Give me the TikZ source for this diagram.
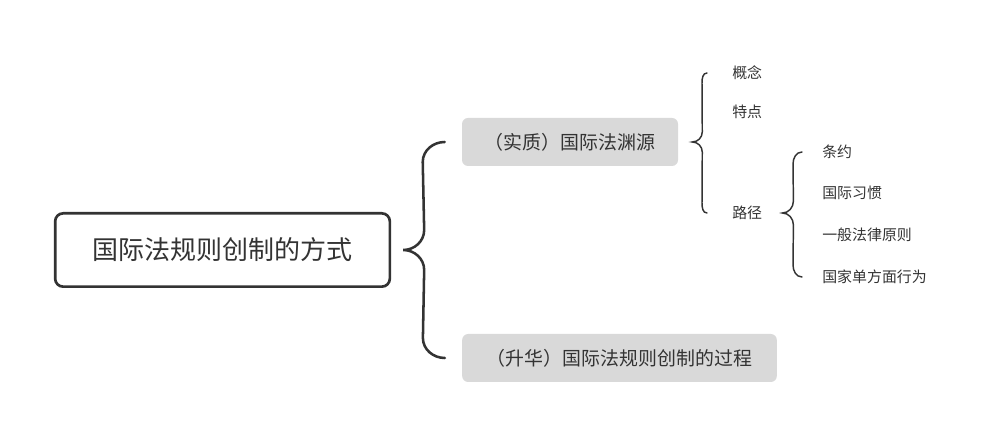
\documentclass[tikz,border=0pt]{standalone}
\usepackage{fontspec}
\setmainfont{Noto Sans CJK SC}
\usetikzlibrary{positioning,calc}
\definecolor{inkgray}{HTML}{333333}
\definecolor{boxgray}{HTML}{D9D9D9}
\tikzset{
  rootbox/.style={draw=inkgray,line width=2pt,rounded corners=6pt,
    minimum width=251pt,minimum height=55pt,inner sep=0pt,
    text=inkgray,font=\fontsize{19.5pt}{20pt}\selectfont},
  topicbox/.style={fill=boxgray,rounded corners=4.5pt,minimum height=36pt,
    inner sep=0pt,text=inkgray,font=\fontsize{14.2pt}{15pt}\selectfont},
  leaf/.style={anchor=west,inner sep=0pt,text=inkgray,
    font=\fontsize{11.2pt}{12pt}\selectfont},
  brace/.style={draw=inkgray,line width=1.9pt,line cap=round},
  smallbrace/.style={draw=inkgray,line width=1.1pt,line cap=round},
}
\begin{document}
\begin{tikzpicture}[x=0.75pt,y=0.75pt]
      \useasboundingbox (0,0) rectangle (991,438);
      % Root and first level
      \node[rootbox] (root) at (222.5,188) {国际法规则创制的方式};
      \node[topicbox,minimum width=162pt] (source) at (570,296) {（实质）国际法渊源};
      \node[topicbox,minimum width=236pt] (process) at (619.5,80) {（升华）国际法规则创制的过程};
      % Second level
      \node[leaf] (concept) at (732,365) {概念};
      \node[leaf] (feature) at (732,326) {特点};
      \node[leaf] (path) at (732,225) {路径};
      % Third level
      \node[leaf] (treaty) at (822,286) {条约};
      \node[leaf] (custom) at (822,245) {国际习惯};
      \node[leaf] (principle) at (822,203) {一般法律原则};
      \node[leaf] (unilateral) at (822,161) {国家单方面行为};
      % Brace ends
      \coordinate (rootTip) at ($(root.east)+(12,0)$);
      \coordinate (rootTop) at ($(source.west)+(-17,0)$);
      \coordinate (rootBot) at ($(process.west)+(-17,0)$);
      \coordinate (srcTip) at ($(source.east)+(14,0)$);
      \coordinate (srcTop) at ($(concept.west)+(-25,0)$);
      \coordinate (srcBot) at ($(path.west)+(-25,0)$);
      \coordinate (pathTip) at ($(path.east)+(20,0)$);
      \coordinate (pathTop) at ($(treaty.west)+(-20,0)$);
      \coordinate (pathBot) at ($(unilateral.west)+(-20,0)$);
      % Braces
      \draw[brace] (rootTop) to[out=180,in=90] ++(-22,-20)
        -- ($(rootTip)+(21,20)$) to[out=-90,in=0] (rootTip)
        to[out=0,in=90] ++(21,-20)
        -- ($(rootBot)+(-22,20)$) to[out=-90,in=180] (rootBot);
      \draw[smallbrace] (srcTop) to[out=180,in=90] ++(-5,-10)
        -- ($(srcTip)+(10,10)$) to[out=-90,in=0] (srcTip)
        to[out=0,in=90] ++(10,-10)
        -- ($(srcBot)+(-5,10)$) to[out=-90,in=180] (srcBot);
      \draw[smallbrace] (pathTop) to[out=180,in=90] ++(-9,-12)
        -- ($(pathTip)+(11,12)$) to[out=-90,in=0] (pathTip)
        to[out=0,in=90] ++(11,-12)
        -- ($(pathBot)+(-9,12)$) to[out=-90,in=180] (pathBot);
\end{tikzpicture}
\end{document}
